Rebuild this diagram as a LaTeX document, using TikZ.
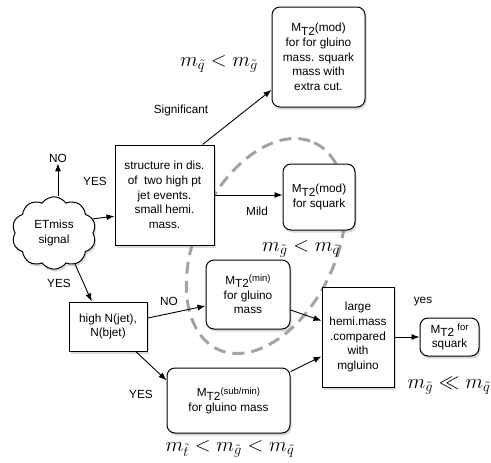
\documentclass[tikz,border=0pt]{standalone}
\usepackage{fontspec}
\newfontfamily\hel{Liberation Sans}
\usepackage{amssymb}
\usetikzlibrary{arrows.meta,positioning,calc,shapes.symbols,shadows,backgrounds}
\definecolor{GrisElipse}{HTML}{A3A3A3}
\newcommand{\mtdos}{M\raisebox{-3.5pt}{T2}}
\newcommand{\sups}[1]{\raisebox{2.5pt}{\fontsize{9.5}{10}\selectfont #1}}
\tikzset{
  sombra/.style    = {drop shadow={opacity=.3, shadow xshift=1.5pt, shadow yshift=-2.5pt}},
  caja/.style      = {draw, line width=1pt, fill=white, sombra, align=center,
                      font=\hel\fontsize{11.8}{14.7}\selectfont, inner sep=2pt},
  cajar/.style     = {caja, rounded corners=8pt},
  nube/.style      = {draw, line width=1pt, fill=white, sombra, cloud, cloud puffs=10,
                      cloud puff arc=110, align=center,
                      font=\hel\fontsize{11.8}{14.7}\selectfont},
  flecha/.style    = {-{Latex[length=8pt,width=6pt]}, line width=0.9pt},
  lbl/.style       = {font=\hel\fontsize{11.8}{14}\selectfont, inner sep=1pt},
  masa/.style      = {font=\fontsize{22}{24}\selectfont, inner sep=0pt},
  elipse/.style    = {draw=GrisElipse, line width=3pt, dash pattern=on 12pt off 7pt},
}
\begin{document}
\begin{tikzpicture}[x=1pt, y=-1pt]
  \useasboundingbox (0,0) rectangle (491,463);
  % cajas
  \node[cajar, minimum width=93pt, minimum height=100pt] (gluinocut) at (318.5,57)
    {\mtdos(mod)\\for for gluino\\mass. squark\\mass with\\extra cut.};
  \node[caja, minimum width=99pt, minimum height=100pt] (estructura) at (164.5,195)
    {structure in dis.\\of \ two high pt\\jet events.\\small hemi.\\mass.};
  \node[cajar, minimum width=72pt, minimum height=66pt] (squarkmod) at (319,197)
    {\mtdos(mod)\\for squark};
  \node[nube, minimum width=84pt, minimum height=54pt] (etmiss) at (54,233)
    {ETmiss\\signal};
  \node[caja, minimum width=78pt, minimum height=49pt] (njet) at (108,326.5)
    {high N(jet),\\N(bjet)};
  \node[cajar, minimum width=84pt, minimum height=69pt] (mtmin) at (248,294.5)
    {\mtdos\sups{(min)}\\for gluino\\mass};
  \node[cajar, minimum width=123pt, minimum height=65pt] (mtsub) at (228.5,400.5)
    {\mtdos\sups{(sub/min)}\\for gluino mass};
  \node[caja, minimum width=72pt, minimum height=100pt] (hemi) at (358,337)
    {large\\hemi.mass\\.compared\\with\\mgluino};
  \node[cajar, minimum width=59pt, minimum height=38pt] (squarkfin) at (449.5,337)
    {\mtdos\ \sups{for}\\squark};
  % etiquetas
  \node[lbl] (no1) at (58,158) {NO};
  \node[lbl] at (95,181) {YES};
  \node[lbl] at (181,110) {Significant};
  \node[lbl] at (257,211) {Mild};
  \node[lbl] at (59,283) {YES};
  \node[lbl] at (169,301) {NO};
  \node[lbl] at (141,394) {YES};
  \node[lbl] at (423,302) {yes};
  \node[masa] at (219,64) {$m_{\tilde q} < m_{\tilde g}$};
  \node[masa] at (301,249) {$m_{\tilde g} < m_{\tilde q}$};
  \node[masa] at (230,449) {$m_{\tilde t} < m_{\tilde g} < m_{\tilde q}$};
  \node[masa] at (449,386) {$m_{\tilde g} \ll m_{\tilde q}$};
  % flechas
  \draw[flecha] (etmiss.north -| no1) -- (no1.south);
  \draw[flecha] (etmiss.20) -- (estructura.203);
  \draw[flecha] (etmiss.-56) -- (njet.123);
  \draw[flecha] (estructura.53) -- (gluinocut.215);
  \draw[flecha] (estructura.east) -- (estructura.east -| squarkmod.west);
  \draw[flecha] (njet.12) -- (mtmin.195);
  \draw[flecha] (njet.-42) -- (mtsub.162);
  \draw[flecha] (mtmin.-20) -- (hemi.156);
  \draw[flecha] (mtsub.25) -- (hemi.208);
  \draw[flecha] (hemi.east) -- (squarkfin.west);
  % elipse de fondo
  \begin{scope}[on background layer]
    \draw[elipse, rotate around={65:(266,246)}] (266,246) ellipse [x radius=114, y radius=70];
  \end{scope}
\end{tikzpicture}
\end{document}
